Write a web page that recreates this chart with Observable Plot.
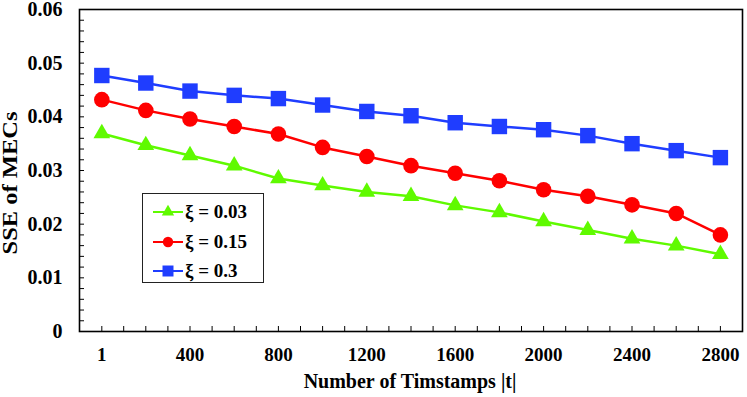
<!DOCTYPE html>
<html><head><meta charset="utf-8">
<script src="https://cdn.jsdelivr.net/npm/d3@7"></script>
<script src="https://cdn.jsdelivr.net/npm/@observablehq/plot@0.6"></script>
<style>
body{margin:0;background:#fff;}
#wrap{position:relative;width:747px;height:397px;overflow:hidden;}
#wrap > svg{overflow:visible;}
#legend{position:absolute;left:142px;top:193px;width:120px;height:88px;border:1.5px solid #222;background:#fff;
  font-family:"Liberation Serif","Times New Roman",serif;font-weight:bold;font-size:19px;}
#legend .row{position:absolute;left:9px;height:24px;display:flex;align-items:center;}
#legend svg{display:block;}
#legend span{margin-left:1px;white-space:pre;}
</style></head><body><div id="wrap"></div>
<script>
// ---- data ----
const timestamps = [1, 200, 400, 600, 800, 1000, 1200, 1400, 1600, 1800, 2000, 2200, 2400, 2600, 2800];
const sseXi003 = [0.0369, 0.0347, 0.0328, 0.0309, 0.0285, 0.0272, 0.0260, 0.0252, 0.0235, 0.0222, 0.0205, 0.0189, 0.0173, 0.0160, 0.0144];
const sseXi015 = [0.0432, 0.0412, 0.0396, 0.0382, 0.0368, 0.0343, 0.0326, 0.0309, 0.0295, 0.0281, 0.0264, 0.0252, 0.0236, 0.0220, 0.0180];
const sseXi03  = [0.0477, 0.0463, 0.0448, 0.0440, 0.0434, 0.0422, 0.0410, 0.0402, 0.0389, 0.0382, 0.0376, 0.0365, 0.0350, 0.0337, 0.0324];
const seriesNames = ["ξ = 0.03", "ξ = 0.15", "ξ = 0.3"];
const seriesColors = ["#5ffa00", "#ff0000", "#1f3dff"];
const seriesSymbols = ["triangle", "circle", "square"];
const xTickLabels = [1, 400, 800, 1200, 1600, 2000, 2400, 2800];
const xMinorTicks = [1, 100, 200, 300, 400, 500, 600, 700, 800, 900, 1000, 1100, 1200, 1300, 1400, 1500, 1600, 1700, 1800, 1900, 2000, 2100, 2200, 2300, 2400, 2500, 2600, 2700, 2800];
const yTickLabels = [0, 0.01, 0.02, 0.03, 0.04, 0.05, 0.06];
const yMinorTicks = [0.002, 0.004, 0.006, 0.008, 0.01, 0.012, 0.014, 0.016, 0.018, 0.02, 0.022, 0.024, 0.026, 0.028, 0.03, 0.032, 0.034, 0.036, 0.038, 0.04, 0.042, 0.044, 0.046, 0.048, 0.05, 0.052, 0.054, 0.056, 0.058];
const xTitle = "Number of Timstamps |t|";
const yTitle = "SSE of MECs";

const seriesValues = [sseXi003, sseXi015, sseXi03];
const markerR = [6.2, 7.8, 8.7];
const rows = [];
seriesValues.forEach((vals, s) => vals.forEach((v, i) => rows.push({t: timestamps[i], v, s: seriesNames[s]})));

const W = 747, H = 397, mL = 79, mR = 5, mT = 9, mB = 66, tickLen = 5;
const font = '"Liberation Serif","Times New Roman",serif';
const marks = [];
seriesNames.forEach((name, s) => {
  const d = rows.filter(r => r.s === name);
  marks.push(Plot.line(d, {x: "t", y: "v", stroke: seriesColors[s], strokeWidth: 2.5}));
});
seriesNames.forEach((name, s) => {
  const d = rows.filter(r => r.s === name);
  marks.push(Plot.dot(d, {x: "t", y: "v", symbol: seriesSymbols[s], r: markerR[s], fill: seriesColors[s], stroke: "none"}));
});

const chart = Plot.plot({
  width: W, height: H,
  marginLeft: mL, marginRight: mR, marginTop: mT, marginBottom: mB,
  style: {fontFamily: font, fontWeight: "bold", background: "#fff", color: "#000", overflow: "visible"},
  x: {domain: [-100, 2900]},
  y: {domain: [0, 0.06]},
  marks: [
    ...marks,
    Plot.tickX(xMinorTicks, {x: d => d, insetTop: (H - mT - mB) - tickLen, stroke: "#000", strokeWidth: 1}),
    Plot.tickY(yMinorTicks, {y: d => d, insetRight: (W - mL - mR) - tickLen, stroke: "#000", strokeWidth: 1}),
    Plot.frame({stroke: "#000", strokeWidth: 1.6}),
    Plot.axisX({ticks: xTickLabels, tickSize: 0, tickPadding: 16, label: null, fontSize: 19, tickFormat: d => String(d)}),
    Plot.axisY({ticks: yTickLabels, tickSize: 0, tickPadding: 17, label: null, fontSize: 20, tickFormat: d => d === 0 ? "0" : d.toFixed(2)})
  ]
});
document.getElementById("wrap").appendChild(chart);

const svg = d3.select(chart);
svg.append("text").attr("x", 410).attr("y", 388).attr("text-anchor", "middle")
  .attr("font-family", font).attr("font-weight", "bold").attr("font-size", 20).attr("fill", "#000").text(xTitle);
svg.append("text").attr("transform", "translate(17,183) rotate(-90)").attr("text-anchor", "middle")
  .attr("font-family", font).attr("font-weight", "bold").attr("font-size", 20).attr("fill", "#000")
  .attr("textLength", 143).attr("lengthAdjust", "spacingAndGlyphs").text(yTitle);

// legend
const legend = d3.select("#wrap").append("div").attr("id", "legend");
const legR = [4.6, 5.2, 6.2];
seriesNames.forEach((name, s) => {
  const row = legend.append("div").attr("class", "row").style("top", (6 + s * 29.5) + "px");
  const sw = row.append("svg").attr("width", 32).attr("height", 20);
  sw.append("line").attr("x1", 1).attr("x2", 31).attr("y1", 10).attr("y2", 10).attr("stroke", seriesColors[s]).attr("stroke-width", 2);
  const sym = {triangle: d3.symbolTriangle, circle: d3.symbolCircle, square: d3.symbolSquare}[seriesSymbols[s]];
  sw.append("path").attr("transform", "translate(16,10)").attr("d", d3.symbol(sym, Math.PI * legR[s] * legR[s])()).attr("fill", seriesColors[s]);
  row.append("span").text(name);
});
</script></body></html>
